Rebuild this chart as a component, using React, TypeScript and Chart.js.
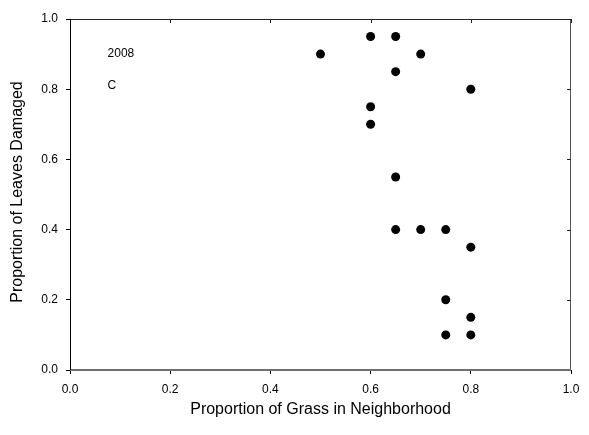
import React, { useEffect, useRef } from "react";
import { Chart, registerables } from "chart.js";

Chart.register(...registerables);

const grassProportion = [0.5, 0.6, 0.65, 0.7, 0.65, 0.8, 0.6, 0.6, 0.65, 0.65, 0.7, 0.75, 0.8, 0.75, 0.8, 0.75, 0.8];
const leavesDamaged = [0.9, 0.95, 0.95, 0.9, 0.85, 0.8, 0.75, 0.7, 0.55, 0.4, 0.4, 0.4, 0.35, 0.2, 0.15, 0.1, 0.1];
const tickValues = [0, 0.2, 0.4, 0.6, 0.8, 1.0];
const xTitle = "Proportion of Grass in Neighborhood";
const yTitle = "Proportion of Leaves Damaged";
const annotations = [
  { text: "2008", x: 0.075, y: 0.9 },
  { text: "C", x: 0.075, y: 0.81 },
];

const FONT = "'Liberation Sans', Arial, Helvetica, sans-serif";

const framePlugin = {
  id: "framePlugin",
  afterDraw(chart: any) {
    const ctx = chart.ctx;
    const { left, right, top, bottom } = chart.chartArea;
    const xs = chart.scales.x;
    const ys = chart.scales.y;
    ctx.save();
    // top line
    ctx.strokeStyle = "#222";
    ctx.lineWidth = 1;
    ctx.beginPath();
    ctx.moveTo(left, top + 0.5);
    ctx.lineTo(right, top + 0.5);
    ctx.stroke();
    // right line
    ctx.strokeStyle = "#555";
    ctx.beginPath();
    ctx.moveTo(right - 0.5, top);
    ctx.lineTo(right - 0.5, bottom);
    ctx.stroke();
    // inward ticks top & right
    ctx.strokeStyle = "#222";
    tickValues.forEach((v) => {
      const px = Math.round(xs.getPixelForValue(v)) + 0.5;
      ctx.beginPath();
      ctx.moveTo(px, top);
      ctx.lineTo(px, top + 4);
      ctx.stroke();
      const py = Math.round(ys.getPixelForValue(v)) + 0.5;
      ctx.beginPath();
      ctx.moveTo(right, py);
      ctx.lineTo(right - 4, py);
      ctx.stroke();
    });
    // bottom line (grey, thicker)
    ctx.strokeStyle = "#707070";
    ctx.lineWidth = 2;
    ctx.beginPath();
    ctx.moveTo(left, bottom);
    ctx.lineTo(right, bottom);
    ctx.stroke();
    // left line
    ctx.strokeStyle = "#000";
    ctx.lineWidth = 1;
    ctx.beginPath();
    ctx.moveTo(left + 0.5, top);
    ctx.lineTo(left + 0.5, bottom);
    ctx.stroke();

    // titles
    ctx.fillStyle = "#000";
    ctx.font = `16px ${FONT}`;
    ctx.textAlign = "center";
    ctx.textBaseline = "middle";
    ctx.fillText(xTitle, (left + right) / 2, 410);
    ctx.save();
    ctx.translate(18, 192);
    ctx.rotate(-Math.PI / 2);
    ctx.fillText(yTitle, 0, 0);
    ctx.restore();

    // annotations
    ctx.font = `12px ${FONT}`;
    ctx.textAlign = "left";
    annotations.forEach((a) => {
      ctx.fillText(a.text, xs.getPixelForValue(a.x), ys.getPixelForValue(a.y));
    });
    ctx.restore();
  },
};

export default function App() {
  const canvasRef = useRef<HTMLCanvasElement | null>(null);
  useEffect(() => {
    if (!canvasRef.current) return;
    const chart = new Chart(canvasRef.current, {
      type: "scatter",
      data: {
        datasets: [
          {
            data: grassProportion.map((x, i) => ({ x, y: leavesDamaged[i] })),
            backgroundColor: "#000",
            borderColor: "#000",
            pointRadius: 4.5,
            pointHoverRadius: 4.5,
            borderWidth: 0,
          },
        ],
      },
      options: {
        responsive: false,
        animation: false,
        events: [],
        layout: { padding: { left: 0, right: 18, top: 19, bottom: 0 } },
        plugins: { legend: { display: false }, tooltip: { enabled: false } },
        scales: {
          x: {
            type: "linear",
            min: 0,
            max: 1,
            afterFit: (s: any) => {
              s.height = 65;
            },
            afterBuildTicks: (s: any) => {
              s.ticks = tickValues.map((v) => ({ value: v }));
            },
            border: { display: false },
            grid: { drawOnChartArea: false, drawTicks: true, tickLength: 4, color: "#000", lineWidth: 1 },
            ticks: {
              padding: 8,
              color: "#000",
              font: { family: FONT, size: 12 },
              maxRotation: 0,
              callback: (v: any) => Number(v).toFixed(1),
            },
          },
          y: {
            type: "linear",
            min: 0,
            max: 1,
            afterFit: (s: any) => {
              s.width = 70;
            },
            afterBuildTicks: (s: any) => {
              s.ticks = tickValues.map((v) => ({ value: v }));
            },
            border: { display: false },
            grid: { drawOnChartArea: false, drawTicks: true, tickLength: 4, color: "#000", lineWidth: 1 },
            ticks: {
              padding: 8,
              color: "#000",
              font: { family: FONT, size: 12 },
              callback: (v: any) => Number(v).toFixed(1),
            },
          },
        },
      },
      plugins: [framePlugin],
    });
    return () => chart.destroy();
  }, []);
  return (
    <div style={{ position: "fixed", left: 0, top: 0, width: 589, height: 435, background: "#fff" }}>
      <canvas ref={canvasRef} width={589} height={435} style={{ width: 589, height: 435 }} />
    </div>
  );
}
